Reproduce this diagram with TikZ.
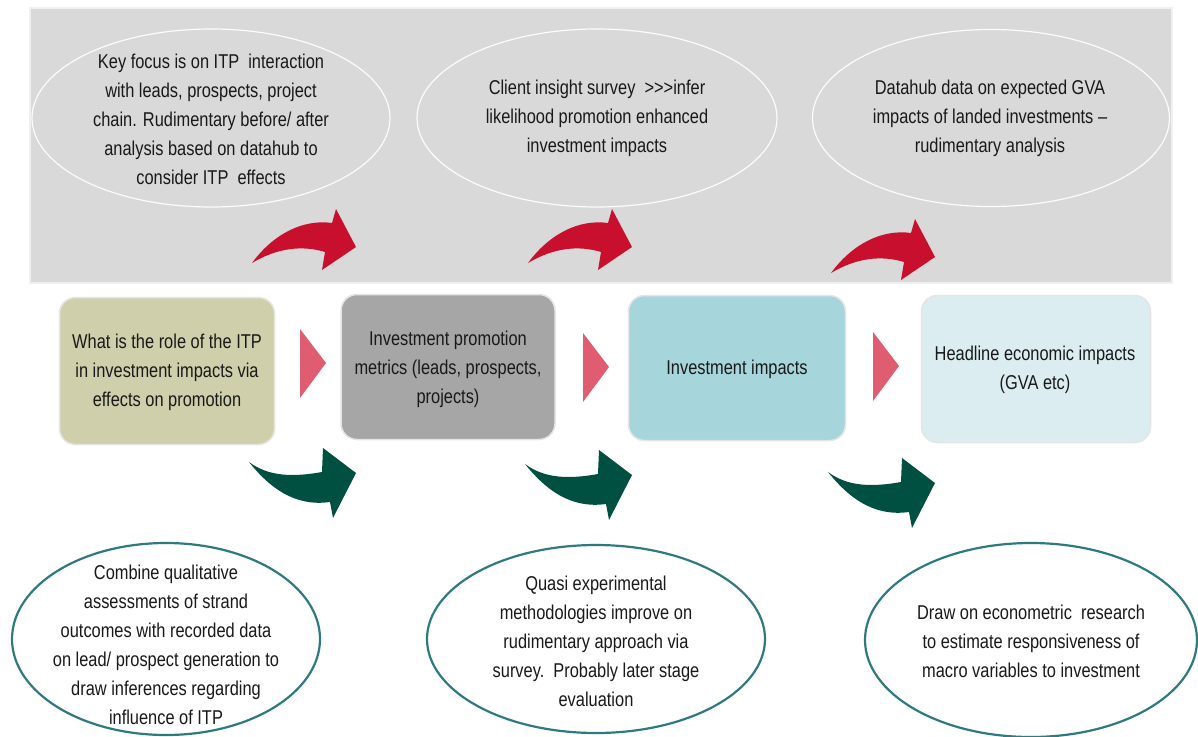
\documentclass[tikz,border=0pt]{standalone}
\usepackage{fontspec}
\setmainfont{Liberation Sans}[FakeStretch=0.82]
\usetikzlibrary{shapes.geometric}
\definecolor{bgray}{RGB}{217,217,217}
\definecolor{olive}{RGB}{208,207,171}
\definecolor{midgray}{RGB}{166,166,166}
\definecolor{tealbox}{RGB}{167,213,220}
\definecolor{lightblue}{RGB}{219,237,241}
\definecolor{tealline}{RGB}{46,122,128}
\definecolor{crimson}{RGB}{200,16,46}
\definecolor{darkgreen}{RGB}{0,80,66}
\definecolor{pinktri}{RGB}{224,92,112}
\definecolor{txt}{RGB}{25,25,25}
\tikzset{
  x=1pt, y=-1pt,
  txtstyle/.style={text=txt, align=center, font=\fontsize{20}{29}\selectfont, inner sep=0pt},
  topell/.style={ellipse, draw=white!92!bgray, line width=1.2pt, inner sep=0pt},
  botell/.style={ellipse, draw=tealline, fill=white, line width=2.2pt, inner sep=0pt},
  stagebox/.style={rounded corners=16pt, draw=white!90!black, line width=1.5pt, inner sep=0pt},
  redarrow/.pic={\fill[crimson] (0,0) .. controls (22,-30) and (52,-44) .. (80,-40) -- (84,-54) -- (104,-16) -- (70,7) -- (73,-11) .. controls (50,-18) and (25,-15) .. cycle;},
  greenarrow/.pic={\fill[darkgreen] (0,0) .. controls (20,15) and (45,15) .. (73,10) -- (74,-14) -- (107,11) -- (84,56) -- (81,40) .. controls (45,45) and (20,25) .. cycle;},
  tri/.pic={\fill[pinktri] (0,0) -- (26,34) -- (0,69) -- cycle;}
}
\begin{document}
\begin{tikzpicture}
\useasboundingbox (0,0) rectangle (1198,736);
\fill[white] (0,0) rectangle (1198,736);
% grey band
\draw[fill=bgray, draw=white!94!black, line width=1.5pt] (30,8) rectangle (1172,283);
% top ellipses
\node[topell, minimum width=358, minimum height=178] (t1) at (211,118) {};
\node[topell, minimum width=360, minimum height=178] (t2) at (597,118) {};
\node[topell, minimum width=357, minimum height=177] (t3) at (991,118) {};
\node[txtstyle] (t1t) at (211,119) {Key focus is on ITP\ \ interaction\\with leads, prospects, project\\chain. Rudimentary before/ after\\analysis based on datahub to\\consider ITP\ \ effects};
\node[txtstyle] (t2t) at (597,118) {Client insight survey\ \ {>}{>}{>}infer\\likelihood promotion enhanced\\investment impacts};
\node[txtstyle] (t3t) at (990,118) {Datahub data on expected GVA\\impacts of landed investments --\\rudimentary analysis};
% red arrows
\pic at (252,263) {redarrow};
\pic at (528,263) {redarrow};
\pic at (831,273) {redarrow};
% stage boxes
\node[stagebox, fill=olive, minimum width=215, minimum height=147] (b1) at (167,371) {};
\node[txtstyle] (b1t) at (167,372) {What is the role of the ITP\\in investment impacts via\\effects on promotion};
\node[stagebox, fill=midgray, minimum width=214, minimum height=145] (b2) at (448,367) {};
\node[txtstyle] (b2t) at (448,369) {Investment promotion\\metrics (leads, prospects,\\projects)};
\node[stagebox, fill=tealbox, minimum width=217, minimum height=145] (b3) at (737,368) {};
\node[txtstyle] (b3t) at (737,369) {Investment impacts};
\node[stagebox, fill=lightblue, minimum width=229, minimum height=147] (b4) at (1036,369) {};
\node[txtstyle] (b4t) at (1035,370) {Headline economic impacts\\(GVA etc)};
% triangles
\pic at (300,329) {tri};
\pic at (583,333) {tri};
\pic at (873,332) {tri};
% green arrows
\pic at (249,462) {greenarrow};
\pic at (525,464) {greenarrow};
\pic at (828,472) {greenarrow};
% bottom ellipses
\node[botell, minimum width=308, minimum height=192] (e1) at (166,639) {};
\node[txtstyle] (e1t) at (166,645) {Combine qualitative\\assessments of strand\\outcomes with recorded data\\on lead/ prospect generation to\\draw inferences regarding\\influence of ITP};
\node[botell, minimum width=338, minimum height=188] (e2) at (596,639) {};
\node[txtstyle] (e2t) at (596,641) {Quasi experimental\\methodologies improve on\\rudimentary approach via\\survey.\ \ Probably later stage\\evaluation};
\node[botell, minimum width=332, minimum height=194] (e3) at (1031,640) {};
\node[txtstyle] (e3t) at (1031,641) {Draw on econometric\ \ research\\to estimate responsiveness of\\macro variables to investment};
\end{tikzpicture}
\end{document}
